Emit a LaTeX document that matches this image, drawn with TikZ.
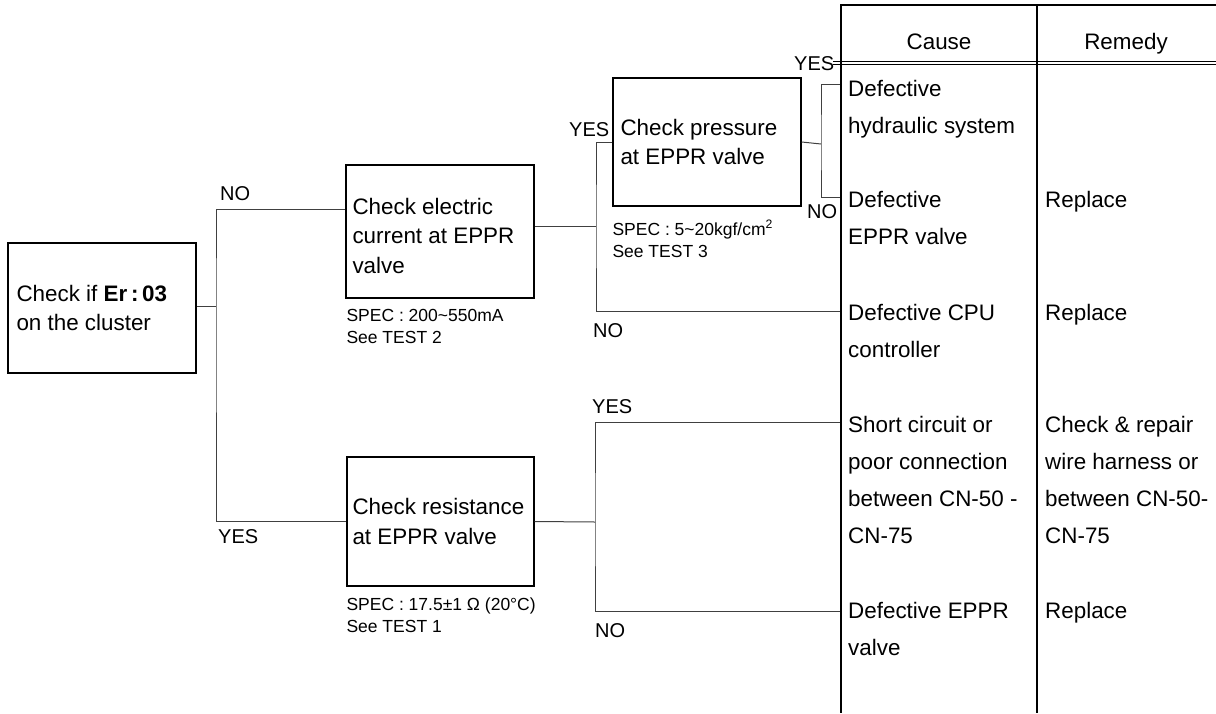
\documentclass[tikz,border=0pt]{standalone}
\usepackage{fontspec}
\setmainfont{Liberation Sans}
\usetikzlibrary{positioning}

\begin{document}
\begin{tikzpicture}[x=1pt,y=-1pt]
  \tikzstyle{chkbox}=[rectangle,draw,line width=1.4pt,inner sep=0pt]
  \tikzstyle{boxtxt}=[inner sep=0pt,align=left,anchor=west,font=\fontsize{22.4}{29.5}\selectfont]
  \tikzstyle{spec}=[inner sep=0pt,align=left,font=\fontsize{17.5}{22}\selectfont]
  \tikzstyle{yn}=[inner sep=0pt,anchor=base west,font=\fontsize{20}{24}\selectfont]
  \tikzstyle{cell}=[inner sep=0pt,align=left,anchor=north west,font=\fontsize{22.4}{37}\selectfont]
  \tikzstyle{hdr}=[inner sep=0pt,anchor=base,font=\fontsize{22.4}{26}\selectfont]
  \tikzstyle{conn}=[line width=1pt,black!75]
  \tikzstyle{tabline}=[line width=1.6pt]
  \useasboundingbox (0,0) rectangle (1216,713);

  \node[chkbox,minimum width=188pt,minimum height=130pt] (chk) at (102,308) {};
  \node[chkbox,minimum width=188pt,minimum height=133pt] (cur) at (440,231.5) {};
  \node[chkbox,minimum width=188pt,minimum height=128pt] (prs) at (707,142) {};
  \node[chkbox,minimum width=187pt,minimum height=129pt] (res) at (440.5,521.5) {};

  \node[boxtxt] (chkT) at ([xshift=9pt]chk.west) {Check if \textbf{Er\,:\,03}\\on the cluster};
  \node[boxtxt] (curT) at ([xshift=7pt,yshift=-4pt]cur.west) {Check electric\\current at EPPR\\valve};
  \node[boxtxt] (prsT) at ([xshift=8pt]prs.west) {Check pressure\\at EPPR valve};
  \node[boxtxt] (resT) at ([xshift=6pt]res.west) {Check resistance\\at EPPR valve};

  \node[spec,below right=10.5pt and 1pt of cur.south west] (curS) {SPEC : 200\textasciitilde550mA\\See TEST 2};
  \node[spec,below right=13.5pt and 0pt of prs.south west] (prsS) {SPEC : 5\textasciitilde20kgf/cm\textsuperscript{2}\\See TEST 3};
  \node[spec,below right=10.5pt and 0pt of res.south west] (resS) {SPEC : 17.5±1 Ω (20°C)\\See TEST 1};

  \coordinate (jA) at (216,306);
  \coordinate (jB) at (596,226);
  \coordinate (jC) at (821,144);
  \coordinate (jD) at (595,522);
  \coordinate (in1) at (841,84);
  \coordinate (in2) at (841,197);
  \coordinate (in3) at (841,311);
  \coordinate (in4) at (841,422);
  \coordinate (in5) at (841,611);

  \draw[conn] ([yshift=2pt]chk.east) -- (jA);
  \draw[conn] ([yshift=22.5pt]cur.west) -| (jA) |- (res.west);
  \draw[conn] ([yshift=5.5pt]cur.east) -- (jB);
  \draw[conn] (prs.west) -| (jB) |- (in3);
  \draw[conn] (prs.east) -- (jC);
  \draw[conn] (in1) -| (jC) |- (in2);
  \draw[conn] (res.east) -- (jD);
  \draw[conn] (in4) -| (jD) |- (in5);

  \node[yn] (no1) at (220,200) {NO};
  \node[yn] (yes1) at (218,543) {YES};
  \node[yn] (yes2) at (569,136) {YES};
  \node[yn] (no2) at (593,337) {NO};
  \node[yn] (yes3) at (794,70) {YES};
  \node[yn] (no3) at (807,218) {NO};
  \node[yn] (yes4) at (592,413) {YES};
  \node[yn] (no4) at (595,637) {NO};

  \draw[tabline] (1216,5) -- (841,5) -- (841,713);
  \draw[line width=1.2pt] (1037,5) -- (1037,713);
  \draw[line width=0.8pt] (833,61) -- (1216,61);
  \draw[line width=0.8pt] (833,64.5) -- (1216,64.5);

  \node[hdr] (cause) at (939,49) {Cause};
  \node[hdr] (remedy) at (1126,49) {Remedy};

  \node[cell] (cz1) at (848,80) {Defective\\hydraulic system};
  \node[cell] (cz2) at (848,191) {Defective\\EPPR valve};
  \node[cell] (cz3) at (848,304) {Defective CPU\\controller};
  \node[cell] (cz4) at (848,416) {Short circuit or\\poor connection\\between CN-50 -\\CN-75};
  \node[cell] (cz5) at (848,602) {Defective EPPR\\valve};
  \node[cell] (rm2) at (1045,191) {Replace};
  \node[cell] (rm3) at (1045,304) {Replace};
  \node[cell] (rm4) at (1045,416) {Check \& repair\\wire harness or\\between CN-50-\\CN-75};
  \node[cell] (rm5) at (1045,602) {Replace};
\end{tikzpicture}
\end{document}
